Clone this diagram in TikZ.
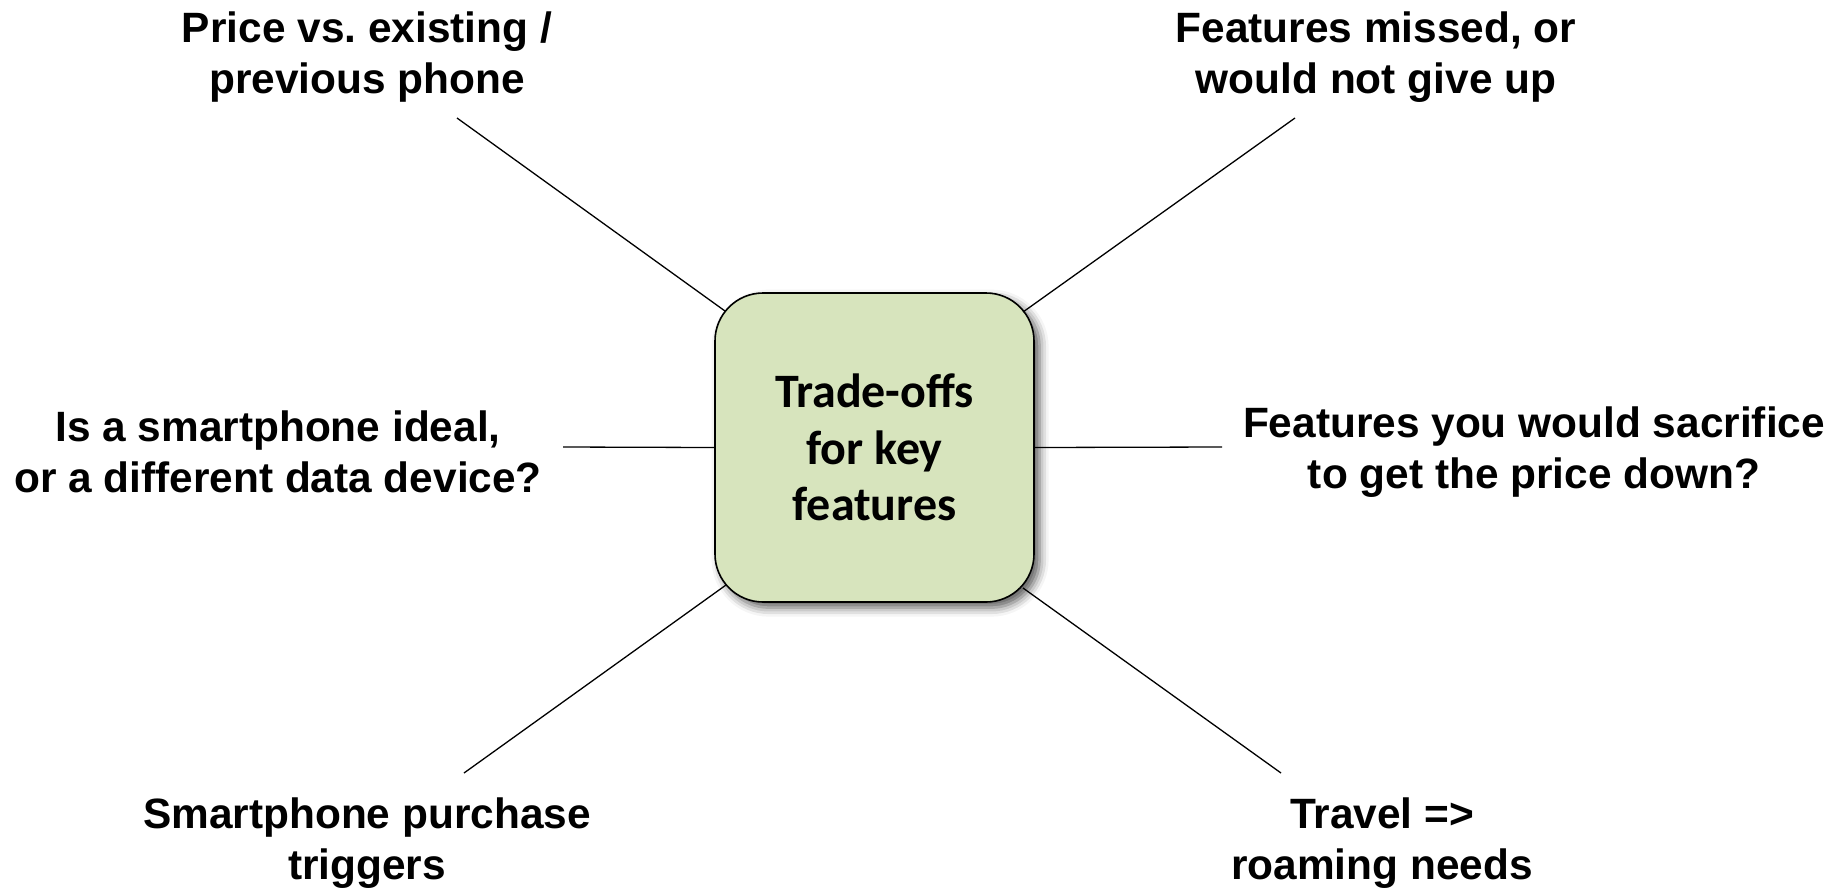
\documentclass[tikz,border=0pt]{standalone}
\usepackage{fontspec}
\setmainfont{Liberation Sans}
\newfontfamily\boxfont{Carlito}
\frenchspacing
\usetikzlibrary{shadows.blur}
\definecolor{boxgreen}{HTML}{D7E4BD}
\begin{document}
\begin{tikzpicture}[x=0.5pt,y=-0.5pt,
  topic/.style={align=center,font=\bfseries\fontsize{21.2pt}{25.3pt}\selectfont},
  hub/.style={draw=black,line width=0.8pt,fill=boxgreen,rounded corners=24pt,
    minimum width=159.5pt,minimum height=154.5pt,align=center,
    font=\boxfont\bfseries\fontsize{24pt}{28.2pt}\selectfont,
    blur shadow={shadow xshift=2.8pt,shadow yshift=-2.8pt,shadow blur radius=4.5pt,shadow opacity=65}},
  spoke/.style={line width=0.65pt,draw=black}]
\useasboundingbox (0,0) rectangle (1843,890);

% central topic
\node[hub] (hub) at (874.5,447.5) {Trade-offs\\for key\\features};

% surrounding questions
\node[topic] (tl) at (367,57) {Price vs. existing /\\previous phone};
\node[topic] (tr) at (1376,57) {Features missed, or\\would not give up};
\node[topic] (ml) at (278,452) {Is a smartphone ideal,\\or a different data device?};
\node[topic] (mr) at (1534,452) {Features you would sacrifice\\to get the price down?};
\node[topic] (bl) at (367,843) {Smartphone purchase\\triggers};
\node[topic] (br) at (1382,843) {Travel =>\\roaming needs};

% spoke ends near the questions
\coordinate (tl-end) at (457,118);
\coordinate (tr-end) at (1295,118);
\coordinate (ml-end) at (563,447);
\coordinate (mr-end) at (1222,447);
\coordinate (bl-end) at (464,773);
\coordinate (br-end) at (1281,773);

% spoke ends on the rounded border of the hub
\coordinate (hub-tl) at (725,311);
\coordinate (hub-tr) at (1023,312);
\coordinate (hub-ml) at (hub.west);
\coordinate (hub-mr) at (hub.east);
\coordinate (hub-bl) at (726,585);
\coordinate (hub-br) at (1023,588);

\draw[spoke] (tl-end) -- (hub-tl);
\draw[spoke] (tr-end) -- (hub-tr);
\draw[spoke] (ml-end) -- (hub-ml);
\draw[spoke] (mr-end) -- (hub-mr);
\draw[spoke] (bl-end) -- (hub-bl);
\draw[spoke] (br-end) -- (hub-br);
\end{tikzpicture}
\end{document}
